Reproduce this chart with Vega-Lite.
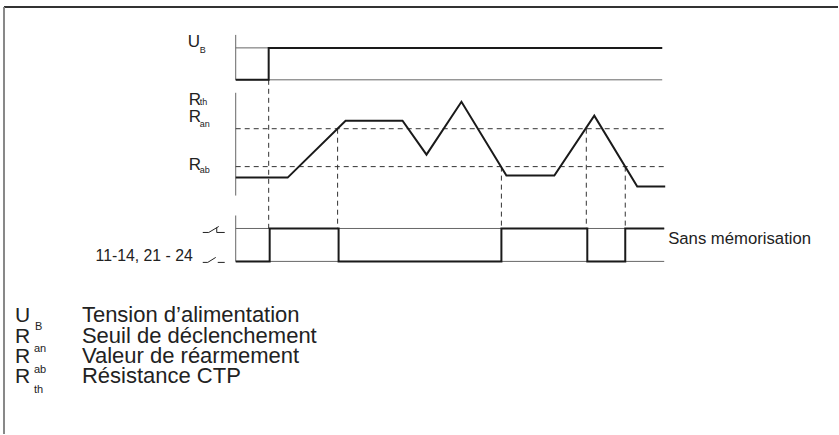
{
  "$schema": "https://vega.github.io/schema/vega-lite/v6.json",
  "width": 839,
  "height": 435,
  "padding": 0,
  "autosize": {"type": "fit", "contains": "padding"},
  "background": "white",
  "config": {"view": {"stroke": null}, "text": {"font": "Liberation Sans", "color": "#222"}},
  "datasets": {
    "segs": [
      {"k": "frame", "x": 4, "y": 7, "x2": 839, "y2": 7},
      {"k": "frameL", "x": 4, "y": 7, "x2": 4, "y2": 435},
      {"k": "axis", "x": 236, "y": 35, "x2": 236, "y2": 80},
      {"k": "axis", "x": 236, "y": 93, "x2": 236, "y2": 196},
      {"k": "axis", "x": 236, "y": 216, "x2": 236, "y2": 262},
      {"k": "ref", "x": 236, "y": 48, "x2": 663, "y2": 48},
      {"k": "ref", "x": 236, "y": 80, "x2": 663, "y2": 80},
      {"k": "ref", "x": 236, "y": 229, "x2": 665, "y2": 229},
      {"k": "ref", "x": 236, "y": 262, "x2": 665, "y2": 262},
      {"k": "dash", "x": 236, "y": 129, "x2": 666, "y2": 129},
      {"k": "dash", "x": 236, "y": 167, "x2": 666, "y2": 167},
      {"k": "dash", "x": 269, "y": 80, "x2": 269, "y2": 229},
      {"k": "dash", "x": 338, "y": 129, "x2": 338, "y2": 229},
      {"k": "dash", "x": 502, "y": 167, "x2": 502, "y2": 229},
      {"k": "dash", "x": 587, "y": 129, "x2": 587, "y2": 229},
      {"k": "dash", "x": 626, "y": 167, "x2": 626, "y2": 229},
      {"k": "sym", "x": 203, "y": 233, "x2": 209, "y2": 233},
      {"k": "sym", "x": 209, "y": 233, "x2": 219, "y2": 227},
      {"k": "sym", "x": 217, "y": 228, "x2": 217, "y2": 233},
      {"k": "sym", "x": 217, "y": 233, "x2": 225, "y2": 233},
      {"k": "sym", "x": 203, "y": 263, "x2": 208, "y2": 263},
      {"k": "sym", "x": 208, "y": 263, "x2": 216, "y2": 258},
      {"k": "sym", "x": 218, "y": 263, "x2": 225, "y2": 263}
    ],
    "paths": [
      {"sig": "UB", "i": 0, "x": 236, "y": 80},
      {"sig": "UB", "i": 1, "x": 269, "y": 80},
      {"sig": "UB", "i": 2, "x": 269, "y": 48},
      {"sig": "UB", "i": 3, "x": 663, "y": 48},
      {"sig": "Rth", "i": 0, "x": 236, "y": 178},
      {"sig": "Rth", "i": 1, "x": 288, "y": 178},
      {"sig": "Rth", "i": 2, "x": 346, "y": 121},
      {"sig": "Rth", "i": 3, "x": 403, "y": 121},
      {"sig": "Rth", "i": 4, "x": 427, "y": 155},
      {"sig": "Rth", "i": 5, "x": 462, "y": 102},
      {"sig": "Rth", "i": 6, "x": 507, "y": 176},
      {"sig": "Rth", "i": 7, "x": 555, "y": 176},
      {"sig": "Rth", "i": 8, "x": 595, "y": 116},
      {"sig": "Rth", "i": 9, "x": 638, "y": 187},
      {"sig": "Rth", "i": 10, "x": 666, "y": 187},
      {"sig": "K", "i": 0, "x": 236, "y": 262},
      {"sig": "K", "i": 1, "x": 270, "y": 262},
      {"sig": "K", "i": 2, "x": 270, "y": 229},
      {"sig": "K", "i": 3, "x": 339, "y": 229},
      {"sig": "K", "i": 4, "x": 339, "y": 262},
      {"sig": "K", "i": 5, "x": 502, "y": 262},
      {"sig": "K", "i": 6, "x": 502, "y": 229},
      {"sig": "K", "i": 7, "x": 588, "y": 229},
      {"sig": "K", "i": 8, "x": 588, "y": 262},
      {"sig": "K", "i": 9, "x": 626, "y": 262},
      {"sig": "K", "i": 10, "x": 626, "y": 229},
      {"sig": "K", "i": 11, "x": 665, "y": 229}
    ],
    "labels": [
      {"k": "main", "x": 188, "y": 47, "t": "U"},
      {"k": "main", "x": 189, "y": 105, "t": "R"},
      {"k": "main", "x": 189, "y": 122, "t": "R"},
      {"k": "main", "x": 189, "y": 170, "t": "R"},
      {"k": "sub", "x": 200, "y": 50, "t": "B"},
      {"k": "sub", "x": 200, "y": 102, "t": "th"},
      {"k": "sub", "x": 200, "y": 124.5, "t": "an"},
      {"k": "sub", "x": 200, "y": 170.5, "t": "ab"},
      {"k": "legsym", "x": 15, "y": 323, "t": "U"},
      {"k": "legsym", "x": 15, "y": 343.5, "t": "R"},
      {"k": "legsym", "x": 15, "y": 364, "t": "R"},
      {"k": "legsym", "x": 15, "y": 384, "t": "R"},
      {"k": "legsub", "x": 35, "y": 328, "t": "B"},
      {"k": "legsub", "x": 34, "y": 350, "t": "an"},
      {"k": "legsub", "x": 34, "y": 371, "t": "ab"},
      {"k": "legsub", "x": 34, "y": 391, "t": "th"},
      {"k": "leg", "x": 82, "y": 323, "t": "Tension d’alimentation"},
      {"k": "leg", "x": 82, "y": 343.5, "t": "Seuil de déclenchement"},
      {"k": "leg", "x": 82, "y": 364, "t": "Valeur de réarmement"},
      {"k": "leg", "x": 82, "y": 384, "t": "Résistance CTP"},
      {"k": "note", "x": 669, "y": 245, "t": "Sans mémorisation"}
    ],
    "rlabels": [
      {"x": 193, "y": 262, "t": "11-14, 21 - 24"}
    ]
  },
  "encoding": {
    "x": {"field": "x", "type": "quantitative", "scale": {"domain": [0, 839], "nice": false, "zero": false}, "axis": null},
    "y": {"field": "y", "type": "quantitative", "scale": {"domain": [0, 435], "nice": false, "zero": false, "reverse": true}, "axis": null}
  },
  "layer": [
    {"data": {"name": "segs"}, "transform": [{"filter": "datum.k === 'frame'"}], "mark": {"type": "rule", "stroke": "#333", "strokeWidth": 2}, "encoding": {"x2": {"field": "x2"}, "y2": {"field": "y2"}}},
    {"data": {"name": "segs"}, "transform": [{"filter": "datum.k === 'frameL'"}], "mark": {"type": "rule", "stroke": "#888", "strokeWidth": 2}, "encoding": {"x2": {"field": "x2"}, "y2": {"field": "y2"}}},
    {"data": {"name": "segs"}, "transform": [{"filter": "datum.k === 'axis' || datum.k === 'ref'"}], "mark": {"type": "rule", "stroke": "#666", "strokeWidth": 1}, "encoding": {"x2": {"field": "x2"}, "y2": {"field": "y2"}}},
    {"data": {"name": "segs"}, "transform": [{"filter": "datum.k === 'dash'"}], "mark": {"type": "rule", "stroke": "#333", "strokeWidth": 1, "strokeDash": [5, 4]}, "encoding": {"x2": {"field": "x2"}, "y2": {"field": "y2"}}},
    {"data": {"name": "segs"}, "transform": [{"filter": "datum.k === 'sym'"}], "mark": {"type": "rule", "stroke": "#222", "strokeWidth": 1}, "encoding": {"x2": {"field": "x2"}, "y2": {"field": "y2"}}},
    {"data": {"name": "paths"}, "mark": {"type": "line", "stroke": "#1a1a1a", "strokeWidth": 2, "strokeJoin": "miter"}, "encoding": {"detail": {"field": "sig"}, "order": {"field": "i", "type": "quantitative"}}},
    {"data": {"name": "labels"}, "transform": [{"filter": "datum.k === 'main'"}], "mark": {"type": "text", "align": "left", "baseline": "alphabetic", "fontSize": 17}, "encoding": {"text": {"field": "t"}}},
    {"data": {"name": "labels"}, "transform": [{"filter": "datum.k === 'sub'"}], "mark": {"type": "text", "align": "left", "baseline": "middle", "fontSize": 9}, "encoding": {"text": {"field": "t"}}},
    {"data": {"name": "labels"}, "transform": [{"filter": "datum.k === 'legsym'"}], "mark": {"type": "text", "align": "left", "baseline": "alphabetic", "fontSize": 21}, "encoding": {"text": {"field": "t"}}},
    {"data": {"name": "labels"}, "transform": [{"filter": "datum.k === 'leg'"}], "mark": {"type": "text", "align": "left", "baseline": "alphabetic", "fontSize": 22}, "encoding": {"text": {"field": "t"}}},
    {"data": {"name": "labels"}, "transform": [{"filter": "datum.k === 'legsub'"}], "mark": {"type": "text", "align": "left", "baseline": "middle", "fontSize": 11}, "encoding": {"text": {"field": "t"}}},
    {"data": {"name": "labels"}, "transform": [{"filter": "datum.k === 'note'"}], "mark": {"type": "text", "align": "left", "baseline": "alphabetic", "fontSize": 16.7}, "encoding": {"text": {"field": "t"}}},
    {"data": {"name": "rlabels"}, "mark": {"type": "text", "align": "right", "baseline": "alphabetic", "fontSize": 15.8}, "encoding": {"text": {"field": "t"}}}
  ]
}
